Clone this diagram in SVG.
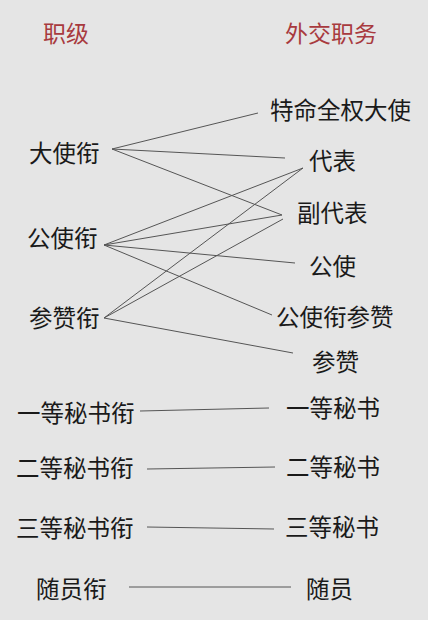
<svg xmlns="http://www.w3.org/2000/svg" width="428" height="620" viewBox="0 0 428 620">
<style>
text{font-family:"Noto Sans CJK SC","Noto Sans",sans-serif;font-size:23.5px;fill:#1a1a1a}
.title{fill:#a83a3e;font-size:23px}
.c line{stroke:#555;stroke-width:1;fill:none}
</style>
<rect width="428" height="620" fill="#e5e5e5"/>
<g id="headers">
<text class="title" x="43" y="41.5">职级</text>
<text class="title" x="285" y="41.5">外交职务</text>
</g>
<g id="connectors" class="c">
<line x1="112" y1="149" x2="258" y2="113"/>
<line x1="112" y1="149" x2="285" y2="158"/>
<line x1="112" y1="149" x2="282" y2="215"/>
<line x1="104" y1="245" x2="303" y2="168"/>
<line x1="104" y1="245" x2="282" y2="215"/>
<line x1="104" y1="245" x2="295" y2="263"/>
<line x1="104" y1="245" x2="272" y2="315"/>
<line x1="104" y1="318" x2="303" y2="168"/>
<line x1="104" y1="318" x2="283" y2="219"/>
<line x1="104" y1="318" x2="293" y2="353"/>
<line x1="140" y1="411" x2="269" y2="408"/>
<line x1="147" y1="469" x2="275" y2="467"/>
<line x1="147" y1="527" x2="274" y2="529"/>
<line x1="129" y1="587" x2="291" y2="587"/>
</g>
<g id="rank-dashi"><text x="29" y="161.5">大使衔</text></g>
<g id="rank-gongshi"><text x="27" y="246.5">公使衔</text></g>
<g id="rank-canzan"><text x="29" y="326.5">参赞衔</text></g>
<g id="rank-yideng"><text x="17" y="421.5">一等秘书衔</text></g>
<g id="rank-erdeng"><text x="16" y="476.5">二等秘书衔</text></g>
<g id="rank-sandeng"><text x="16" y="536.5">三等秘书衔</text></g>
<g id="rank-suiyuan"><text x="36" y="597.5">随员衔</text></g>
<g id="post-tequan"><text x="270" y="118.5">特命全权大使</text></g>
<g id="post-daibiao"><text x="309" y="169.5">代表</text></g>
<g id="post-fudaibiao"><text x="297" y="221.5">副代表</text></g>
<g id="post-gongshi"><text x="309" y="274.5">公使</text></g>
<g id="post-gongshixiancanzan"><text x="276" y="325.5">公使衔参赞</text></g>
<g id="post-canzan"><text x="312" y="370.5">参赞</text></g>
<g id="post-yideng"><text x="286" y="416.5">一等秘书</text></g>
<g id="post-erdeng"><text x="286" y="475.5">二等秘书</text></g>
<g id="post-sandeng"><text x="285" y="535.5">三等秘书</text></g>
<g id="post-suiyuan"><text x="306" y="597.5">随员</text></g>
</svg>
